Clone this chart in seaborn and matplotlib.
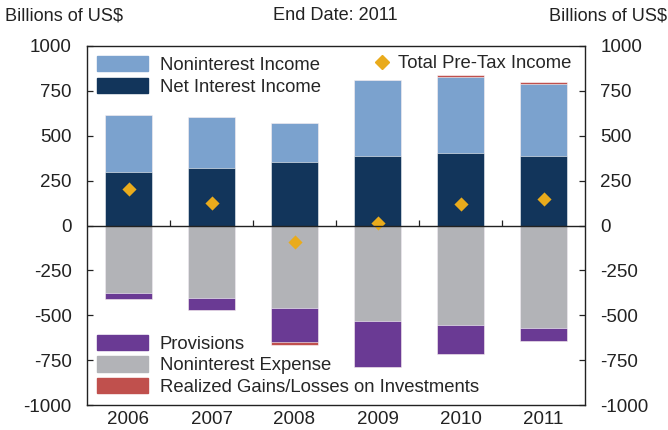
import matplotlib
matplotlib.use("Agg")
import matplotlib.pyplot as plt
from matplotlib.patches import Patch
from matplotlib.lines import Line2D
import numpy as np
import pandas as pd
import seaborn as sns

# Income statement components, billions of US$
years = ["2006", "2007", "2008", "2009", "2010", "2011"]
net_interest_income = [296, 318, 354, 385, 406, 389]
noninterest_income = [318, 284, 218, 424, 420, 399]
noninterest_expense = [377, 403, 461, 533, 557, 572]
provisions = [32, 69, 189, 258, 157, 74]
realized_gains = [0, 3, -15, 0, 10, 11]
pretax_income = [204, 124, -94, 15, 119, 148]

C_NONII = "#7BA2CE"
C_NII = "#12355B"
C_EXP = "#B2B3B7"
C_PROV = "#6A3A94"
C_GAIN = "#C0504D"
C_PRETAX = "#E9AB1C"
C_TEXT = "#222222"

sns.set_theme(style="white")
plt.rcParams["font.family"] = ["Liberation Sans", "DejaVu Sans"]
plt.rcParams["axes.unicode_minus"] = False
FS_LEG = 13.3
FS_TICK = 13.5
FS_HEAD = 13.1

df = pd.DataFrame({
    "year": years,
    "nii": net_interest_income,
    "nonii": noninterest_income,
    "exp": noninterest_expense,
    "prov": provisions,
    "gain": realized_gains,
    "pretax": pretax_income,
})
gain_pos = df["gain"].clip(lower=0)
gain_neg = df["gain"].clip(upper=0)

# cumulative stack heights; tallest layer drawn first, then overlaid
df["pos_top"] = df["nii"] + df["nonii"] + gain_pos
df["pos_mid"] = df["nii"] + df["nonii"]
df["neg_bot"] = -(df["exp"] + df["prov"]) + gain_neg
df["neg_mid"] = -(df["exp"] + df["prov"])
df["neg_top"] = -df["exp"]

fig = plt.figure(figsize=(6.68, 4.30), dpi=100)
ax = fig.add_axes([87 / 668, 25 / 430, 498 / 668, 359 / 430])

W = 0.57
layers = [
    ("pos_top", C_GAIN), ("pos_mid", C_NONII), ("nii", C_NII),
    ("neg_bot", C_GAIN), ("neg_mid", C_PROV), ("neg_top", C_EXP),
]
for col, color in layers:
    sns.barplot(data=df, x="year", y=col, color=color, width=W,
                saturation=1, edgecolor="white", linewidth=0.4, ax=ax)

sns.scatterplot(data=df, x="year", y="pretax", marker="D", color=C_PRETAX,
                s=52, linewidth=0, ax=ax, zorder=5)

ax.set_xlim(-0.5, 5.5)
ax.set_ylim(-1000, 1000)
ax.set_yticks(np.arange(-1000, 1001, 250))
ax.set_xlabel("")
ax.set_ylabel("")

ax.axhline(0, color=C_TEXT, lw=1.0, zorder=6)
# separators between years, standing on the zero line
ax.vlines(np.arange(0.5, 5.5, 1), 0, 28, color=C_TEXT, lw=0.9, zorder=6)

for s in ax.spines.values():
    s.set_visible(True)
    s.set_color(C_TEXT)
    s.set_linewidth(1.0)

ax.tick_params(axis="y", which="both", direction="in", length=4, width=0.9,
               color=C_TEXT, left=True, right=True, labelleft=True,
               labelright=True, labelsize=FS_TICK, pad=11, labelcolor=C_TEXT)
ax.tick_params(axis="x", length=0, labelsize=FS_TICK, pad=4, labelcolor=C_TEXT)

# legends
leg_kw = dict(frameon=False, fontsize=FS_LEG, handlelength=2.76,
              handleheight=0.9, labelspacing=0.2, handletextpad=0.62,
              borderaxespad=0.0, borderpad=0.0)
leg1 = ax.legend(handles=[Patch(color=C_NONII, label="Noninterest Income"),
                          Patch(color=C_NII, label="Net Interest Income")],
                 loc="upper left", bbox_to_anchor=(0.021, 0.972), **leg_kw)
ax.add_artist(leg1)
leg2 = ax.legend(handles=[Line2D([], [], marker="D", ls="", color=C_PRETAX,
                                 markersize=7.5, label="Total Pre-Tax Income")],
                 loc="upper right", bbox_to_anchor=(0.972, 0.975),
                 frameon=False, fontsize=FS_LEG, handlelength=0.8,
                 handletextpad=0.45, borderaxespad=0.0, borderpad=0.0)
ax.add_artist(leg2)
ax.legend(handles=[Patch(color=C_PROV, label="Provisions"),
                   Patch(color=C_EXP, label="Noninterest Expense"),
                   Patch(color=C_GAIN, label="Realized Gains/Losses on Investments")],
          loc="lower left", bbox_to_anchor=(0.021, 0.025), **leg_kw)

fig.text(5 / 668, 1 - 16 / 430, "Billions of US$", fontsize=FS_HEAD, ha="left",
         va="center", color=C_TEXT)
fig.text(1 - 1 / 668, 1 - 16 / 430, "Billions of US$", fontsize=FS_HEAD,
         ha="right", va="center", color=C_TEXT)
fig.text(335 / 668, 1 - 16 / 430, "End Date: 2011", fontsize=FS_HEAD,
         ha="center", va="center", color=C_TEXT)

fig.savefig("out.png", dpi=100)
